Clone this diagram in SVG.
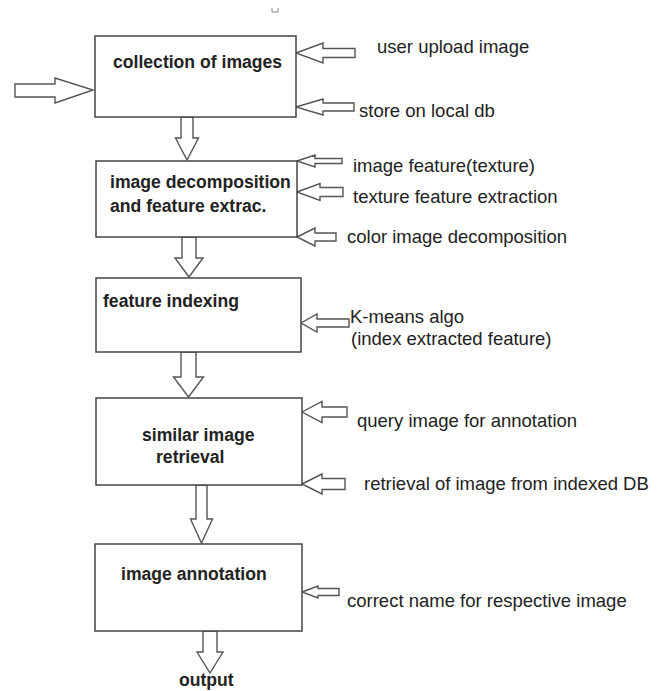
<svg xmlns="http://www.w3.org/2000/svg" width="671" height="691" viewBox="0 0 671 691">
<style>
.box{fill:#fff;stroke:#444;stroke-width:1.5}
.arr{fill:#fff;stroke:#555;stroke-width:1.4;stroke-linejoin:miter}
.t{font-family:"Liberation Sans",Arial,sans-serif;font-size:17.6px;font-weight:bold;fill:#222}
.l{font-family:"Liberation Sans",Arial,sans-serif;font-size:18.5px;fill:#222}
</style>
<rect width="671" height="691" fill="#fff"/>
<path d="M272 8 V12 H278 V8" fill="none" stroke="#888" stroke-width="1"/>
<g id="connectors">
<polygon class="arr" points="15,84 55,84 55,78 93,90 55,103 55,97 15,97"/>
<polygon class="arr" points="181,117 193,117 193,138 198.5,138 187,160 175.5,138 181,138"/>
<polygon class="arr" points="182,237 196,237 196,258 203,258 189,277 175,258 182,258"/>
<polygon class="arr" points="181,352 196,352 196,377 203.5,377 188.5,397 173.5,377 181,377"/>
<polygon class="arr" points="196,485 207,485 207,519 212.5,519 201.5,543 190.5,519 196,519"/>
<polygon class="arr" points="203,631 217,631 217,652 223,652 210,673 197,652 203,652"/>
<polygon class="arr" points="296,53 323,43 323,48.5 355,48.5 355,57.5 323,57.5 323,63"/>
<polygon class="arr" points="296,107 323,99 323,103 354,103 354,111 323,111 323,115"/>
<polygon class="arr" points="297,161 315,155 315,158.5 342,158.5 342,163.5 315,163.5 315,167"/>
<polygon class="arr" points="297,192 320,183.5 320,187.5 343,187.5 343,196.5 320,196.5 320,200.5"/>
<polygon class="arr" points="297,237 315,228 315,233 336,233 336,241 315,241 315,246"/>
<polygon class="arr" points="301,323 317,314 317,319 349,319 349,327 317,327 317,332"/>
<polygon class="arr" points="302,412 322,401.5 322,407 347,407 347,417 322,417 322,422.5"/>
<polygon class="arr" points="302,484 322,474 322,478.5 345,478.5 345,489.5 322,489.5 322,494"/>
<polygon class="arr" points="302,592 318,586 318,588.5 339,588.5 339,595.5 318,595.5 318,598"/>
</g>
<g id="n1">
<rect class="box" x="95" y="36" width="201" height="81"/>
<text class="t" x="113" y="68">collection of images</text>
</g>
<g id="n2">
<rect class="box" x="96" y="161" width="201" height="76"/>
<text class="t" x="110" y="188">image decomposition</text>
<text class="t" x="110" y="212">and feature extrac.</text>
</g>
<g id="n3">
<rect class="box" x="96" y="278" width="205" height="74"/>
<text class="t" x="103" y="307">feature indexing</text>
</g>
<g id="n4">
<rect class="box" x="96" y="398" width="206" height="87"/>
<text class="t" x="142" y="441">similar image</text>
<text class="t" x="156" y="463">retrieval</text>
</g>
<g id="n5">
<rect class="box" x="95" y="544" width="207" height="87"/>
<text class="t" x="121" y="580">image annotation</text>
</g>
<g id="out">
<text class="t" x="179" y="686">output</text>
</g>
<g id="labels">
<text class="l" x="377" y="53">user upload image</text>
<text class="l" x="359" y="117">store on local db</text>
<text class="l" x="353" y="172">image feature(texture)</text>
<text class="l" x="353" y="203">texture feature extraction</text>
<text class="l" x="347" y="243">color image decomposition</text>
<text class="l" x="350" y="323">K-means algo</text>
<text class="l" x="351" y="345">(index extracted feature)</text>
<text class="l" x="357" y="427">query image for annotation</text>
<text class="l" x="364" y="490">retrieval of image from indexed DB</text>
<text class="l" x="347" y="607">correct name for respective image</text>
</g>
</svg>
